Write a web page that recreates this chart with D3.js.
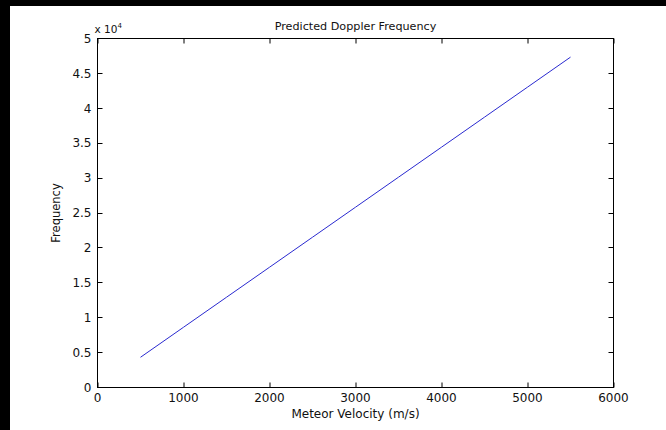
<!DOCTYPE html>
<html>
<head>
<meta charset="utf-8">
<script src="https://cdn.jsdelivr.net/npm/d3@7"></script>
<style>
  body { margin: 0; background: #000; }
  svg { display: block; }
  text { font-family: "DejaVu Sans", sans-serif; fill: #111; }
</style>
</head>
<body>
<div id="chart"></div>
<script>
// meteor velocity (m/s) and predicted doppler frequency (Hz)
var velocity  = [500, 1000, 1500, 2000, 2500, 3000, 3500, 4000, 4500, 5000, 5500];
var frequency = [4330, 8630, 12930, 17230, 21530, 25830, 30130, 34430, 38730, 43030, 47330];
var xTicks = [0, 1000, 2000, 3000, 4000, 5000, 6000];
var yTicks = [0, 0.5, 1, 1.5, 2, 2.5, 3, 3.5, 4, 4.5, 5];

var W = 666, H = 430;
var margin = {top: 38.5, right: 52.5, bottom: 42.5, left: 97.5};
var width = W - margin.left - margin.right;
var height = H - margin.top - margin.bottom;

var svg = d3.select("#chart").append("svg")
    .attr("width", W)
    .attr("height", H);

// figure background (black strips left and top)
svg.append("rect")
    .attr("x", 10).attr("y", 6)
    .attr("width", W - 10).attr("height", H - 6)
    .attr("fill", "#fff");

var g = svg.append("g")
    .attr("transform", "translate(" + margin.left + "," + margin.top + ")");

var x = d3.scaleLinear().domain([0, 6000]).range([0, width]);
var y = d3.scaleLinear().domain([0, 50000]).range([height, 0]);

var tickLen = 5;

// ticks on all four sides, pointing inward
g.selectAll(".xtb").data(xTicks).enter().append("line")
    .attr("x1", function(d) { return Math.round(x(d)) + 0.5; })
    .attr("x2", function(d) { return Math.round(x(d)) + 0.5; })
    .attr("y1", height).attr("y2", height - tickLen)
    .attr("stroke", "#000");
g.selectAll(".xtt").data(xTicks).enter().append("line")
    .attr("x1", function(d) { return Math.round(x(d)) + 0.5; })
    .attr("x2", function(d) { return Math.round(x(d)) + 0.5; })
    .attr("y1", 0).attr("y2", tickLen)
    .attr("stroke", "#000");
g.selectAll(".ytl").data(yTicks).enter().append("line")
    .attr("y1", function(d) { return Math.round(y(d * 10000)); })
    .attr("y2", function(d) { return Math.round(y(d * 10000)); })
    .attr("x1", 0).attr("x2", tickLen)
    .attr("stroke", "#000");
g.selectAll(".ytr").data(yTicks).enter().append("line")
    .attr("y1", function(d) { return Math.round(y(d * 10000)); })
    .attr("y2", function(d) { return Math.round(y(d * 10000)); })
    .attr("x1", width).attr("x2", width - tickLen)
    .attr("stroke", "#000");

// box
g.append("rect")
    .attr("width", width).attr("height", height)
    .attr("fill", "none")
    .attr("stroke", "#000");

// tick labels
g.selectAll(".xl").data(xTicks).enter().append("text")
    .attr("x", function(d) { return x(d); })
    .attr("y", height + 14)
    .attr("text-anchor", "middle")
    .style("font-size", "12px")
    .text(function(d) { return d; });

g.selectAll(".yl").data(yTicks).enter().append("text")
    .attr("x", -6)
    .attr("y", function(d) { return y(d * 10000); })
    .attr("dy", "0.35em")
    .attr("text-anchor", "end")
    .style("font-size", "12px")
    .text(function(d) { return d; });

// exponent label
var ex = g.append("text")
    .attr("x", -3).attr("y", -6)
    .style("font-size", "10.5px");
ex.append("tspan").text("x 10");
ex.append("tspan").attr("dy", -5).style("font-size", "7px").text("4");

// data line
var line = d3.line()
    .x(function(d, i) { return x(velocity[i]); })
    .y(function(d) { return y(d); });

g.append("path")
    .datum(frequency)
    .attr("d", line)
    .attr("fill", "none")
    .attr("stroke", "#2a2ad0")
    .attr("stroke-width", 1);

// titles
g.append("text")
    .attr("x", width / 2).attr("y", -9)
    .attr("text-anchor", "middle")
    .style("font-size", "11.2px")
    .text("Predicted Doppler Frequency");

g.append("text")
    .attr("x", width / 2).attr("y", height + 30)
    .attr("text-anchor", "middle")
    .style("font-size", "12px")
    .text("Meteor Velocity (m/s)");

g.append("text")
    .attr("transform", "translate(" + (60 - margin.left) + "," + (height / 2) + ") rotate(-90)")
    .attr("text-anchor", "middle")
    .style("font-size", "11.5px")
    .text("Frequency");
</script>
</body>
</html>
